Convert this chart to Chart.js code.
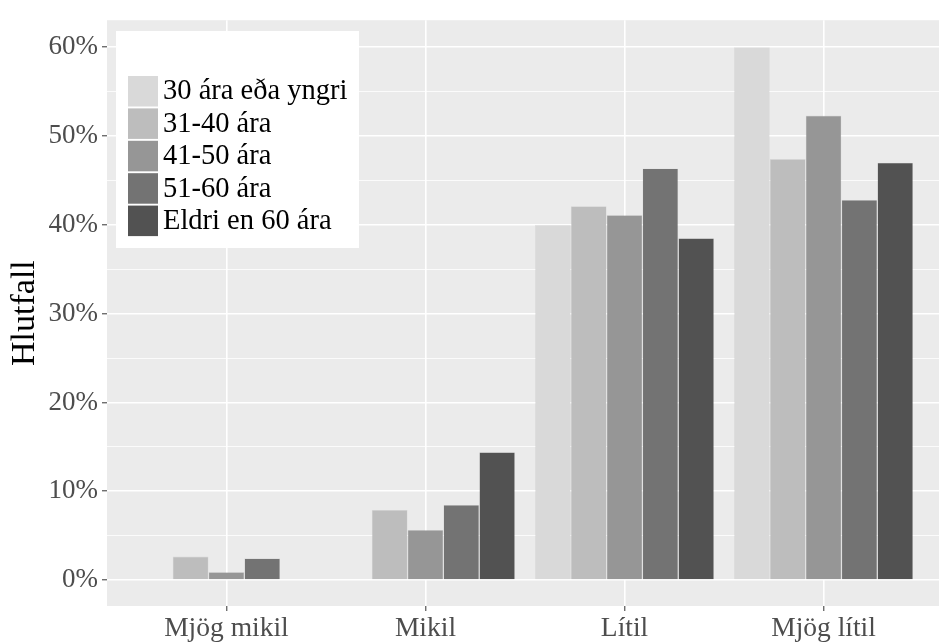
<!DOCTYPE html>
<html>

<head>
  <meta charset="UTF-8" />
  <title>Hlutfall eftir aldri</title>
  <script src="https://cdn.jsdelivr.net/npm/chart.js@4.4.1/dist/chart.umd.min.js"></script>
  <style>
    body { margin: 0; background: #fff; }
  </style>
</head>

<body>
  <canvas id="chart" width="939" height="642"></canvas>
  <script>
    const categories = ['Mjög mikil', 'Mikil', 'Lítil', 'Mjög lítil'];
    const seriesNames = ['30 ára eða yngri', '31-40 ára', '41-50 ára', '51-60 ára', 'Eldri en 60 ára'];
    const age30 = [0, 0, 40.0, 60.0];
    const age31_40 = [2.65, 7.9, 42.1, 47.4];
    const age41_50 = [0.9, 5.65, 41.1, 52.3];
    const age51_60 = [2.45, 8.45, 46.35, 42.8];
    const ageOver60 = [0, 14.4, 38.5, 47.0];
    const yTickValues = [0, 10, 20, 30, 40, 50, 60];
    const yTickLabels = ['0%', '10%', '20%', '30%', '40%', '50%', '60%'];
    const yGridValues = [0, 5, 10, 15, 20, 25, 30, 35, 40, 45, 50, 55, 60];

    const colors = ['#d9d9d9', '#bdbdbd', '#969696', '#737373', '#525252'];
    const allSeries = [age30, age31_40, age41_50, age51_60, ageOver60];
    const serif = "'Liberation Serif', 'DejaVu Serif', serif";

    // ggplot-style grey panel
    const panelBg = {
      id: 'panelBg',
      beforeDraw(chart) {
        const { ctx, chartArea: a } = chart;
        ctx.save();
        ctx.fillStyle = '#ebebeb';
        ctx.fillRect(a.left, a.top, a.right - a.left, a.bottom - a.top);
        ctx.restore();
      }
    };

    // legend drawn inside the panel, top left
    const insideLegend = {
      id: 'insideLegend',
      afterDraw(chart) {
        const ctx = chart.ctx;
        ctx.save();
        ctx.fillStyle = '#ffffff';
        ctx.fillRect(116, 31, 243, 217);
        ctx.font = '28.5px ' + serif;
        ctx.textBaseline = 'middle';
        chart.data.datasets.forEach((ds, i) => {
          const top = 76 + i * 32.4;
          ctx.fillStyle = ds.backgroundColor;
          ctx.fillRect(128, top, 30, 30.5);
          ctx.fillStyle = '#000000';
          ctx.fillText(ds.label, 163, top + 16);
        });
        ctx.restore();
      }
    };

    const datasets = seriesNames.map((name, i) => ({
      label: name,
      data: allSeries[i].map((v, j) => ({ x: j + 1, y: v })),
      backgroundColor: colors[i],
      borderColor: 'rgba(0,0,0,0.08)',
      borderWidth: 0.6,
      categoryPercentage: 0.9,
      barPercentage: 1.0
    }));

    new Chart(document.getElementById('chart').getContext('2d'), {
      type: 'bar',
      data: { datasets },
      plugins: [panelBg, insideLegend],
      options: {
        responsive: false,
        animation: false,
        devicePixelRatio: 1,
        layout: { padding: { top: 10, right: 0, left: 0, bottom: 0 } },
        plugins: {
          legend: { display: false },
          tooltip: { enabled: false }
        },
        scales: {
          x: {
            type: 'linear',
            min: 0.4,
            max: 4.58,
            offset: false,
            afterBuildTicks: s => { s.ticks = categories.map((c, i) => ({ value: i + 1 })); },
            afterFit: s => { s.height = 36; },
            border: { display: false },
            grid: { offset: false, color: '#ffffff', lineWidth: 1.6, tickLength: 5, tickColor: '#333333', tickWidth: 1 },
            ticks: {
              autoSkip: false,
              maxRotation: 0,
              padding: 1,
              color: '#4d4d4d',
              font: { family: serif, size: 27.5 },
              callback: (v, i) => categories[i]
            }
          },
          y: {
            min: -2.92,
            max: 63.04,
            afterBuildTicks: s => { s.ticks = yGridValues.map(v => ({ value: v })); },
            afterFit: s => { s.width = 107; },
            border: { display: false },
            grid: {
              color: '#ffffff',
              lineWidth: c => (c.tick && c.tick.value % 10 === 0 ? 1.6 : 0.8),
              tickLength: 5,
              tickWidth: 1,
              tickColor: c => (c.tick && c.tick.value % 10 === 0 ? '#333333' : 'rgba(0,0,0,0)')
            },
            ticks: {
              padding: 4,
              color: '#4d4d4d',
              font: { family: serif, size: 27 },
              callback: v => {
                const k = yTickValues.indexOf(v);
                return k >= 0 ? yTickLabels[k] : '';
              }
            },
            title: {
              display: true,
              text: 'Hlutfall',
              color: '#000000',
              font: { family: serif, size: 34, lineHeight: 1 },
              padding: { top: 8, bottom: 0 }
            }
          }
        }
      }
    });
  </script>
</body>

</html>
